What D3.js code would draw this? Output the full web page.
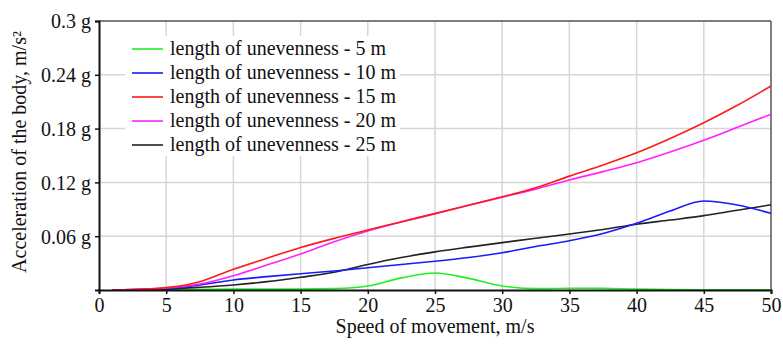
<!DOCTYPE html>
<html>
<head>
<meta charset="utf-8">
<script src="https://cdn.jsdelivr.net/npm/d3@7"></script>
<style>
  html, body { margin: 0; padding: 0; background: #fff; }
  svg { display: block; }
  text { font-family: "Liberation Serif", "Times New Roman", serif; fill: #111; }
</style>
</head>
<body>
<svg id="chart" width="783" height="345"></svg>
<script>
// ---- data ----
const speeds = [1, 2.5, 5, 7.5, 10, 12.5, 15, 17.5, 20, 22.5, 25, 27.5, 30, 32.5, 35, 37.5, 40, 42.5, 45, 47.5, 50];
const len5  = [0, 0.0002, 0.0005, 0.0008, 0.001, 0.001, 0.001, 0.0015, 0.0045, 0.0135, 0.019, 0.0130, 0.0045, 0.0015, 0.002, 0.0018, 0.001, 0.0005, 0.0003, 0.0003, 0.0003];
const len10 = [0, 0.0004, 0.0017, 0.0056, 0.0112, 0.0149, 0.0182, 0.0212, 0.0249, 0.0285, 0.0320, 0.0362, 0.0416, 0.0485, 0.0550, 0.0630, 0.0744, 0.0880, 0.0993, 0.0948, 0.0855];
const len15 = [0, 0.0005, 0.0026, 0.0093, 0.0231, 0.0354, 0.0474, 0.0576, 0.0669, 0.0762, 0.0852, 0.0945, 0.1040, 0.1140, 0.1270, 0.1394, 0.1530, 0.1690, 0.1866, 0.2060, 0.2275];
const len20 = [0, 0.0004, 0.0022, 0.0067, 0.0160, 0.0279, 0.0401, 0.0539, 0.0658, 0.0758, 0.0852, 0.0945, 0.1035, 0.1125, 0.1227, 0.1320, 0.1420, 0.1540, 0.1670, 0.1814, 0.1960];
const len25 = [0, 0.0003, 0.0010, 0.0030, 0.0056, 0.0093, 0.0142, 0.0197, 0.0285, 0.0362, 0.0425, 0.0478, 0.0528, 0.0578, 0.0624, 0.0675, 0.0733, 0.0780, 0.0829, 0.0890, 0.0950];
const seriesNames = ["length of unevenness - 5 m", "length of unevenness - 10 m", "length of unevenness - 15 m", "length of unevenness - 20 m", "length of unevenness - 25 m"];
const seriesColors = ["#22ee22", "#1a1aff", "#ff1a1a", "#ff22ff", "#222222"];
const xTicks = [0, 5, 10, 15, 20, 25, 30, 35, 40, 45, 50];
const yTicks = [0.06, 0.12, 0.18, 0.24, 0.3];
const yTickLabels = ["0.06 g", "0.12 g", "0.18 g", "0.24 g", "0.3 g"];
const xTitle = "Speed of movement, m/s";
const yTitle = "Acceleration of the body, m/s²";

// ---- layout ----
const svg = d3.select("#chart");
const L = 99, R = 771, T = 21, B = 290;
const x = d3.scaleLinear().domain([0, 50]).range([L, R]);
const y = d3.scaleLinear().domain([0, 0.3]).range([B, T]);

// grid
const grid = svg.append("g");
grid.selectAll("line.vx").data(xTicks.filter(d => d > 0 && d < 50)).enter().append("line")
  .attr("x1", d => x(d)).attr("x2", d => x(d)).attr("y1", T).attr("y2", B)
  .attr("stroke", "#d6d6d6").attr("stroke-width", 1.5);
grid.selectAll("line.hy").data(yTicks.filter(d => d < 0.3)).enter().append("line")
  .attr("x1", L).attr("x2", R).attr("y1", d => y(d)).attr("y2", d => y(d))
  .attr("stroke", "#d6d6d6").attr("stroke-width", 1.5);

// frame top/right
svg.append("line").attr("x1", L).attr("x2", R).attr("y1", T).attr("y2", T).attr("stroke", "#555").attr("stroke-width", 1.5);
svg.append("line").attr("x1", R).attr("x2", R).attr("y1", T).attr("y2", B).attr("stroke", "#555").attr("stroke-width", 1.5);

// series
const allSeries = [len5, len10, len15, len20, len25];
const lineGen = d3.line().x((d, i) => x(speeds[i])).y(d => y(d)).curve(d3.curveMonotoneX);
// draw order: green, black, blue, magenta, red
const order = [0, 4, 1, 3, 2];
order.forEach(k => {
  svg.append("path").datum(allSeries[k])
    .attr("fill", "none").attr("stroke", seriesColors[k]).attr("stroke-width", 1.6)
    .attr("d", lineGen);
});

// axes
const xAxis = d3.axisBottom(x).tickValues(xTicks).tickSize(4).tickFormat(d3.format("d"));
const gx = svg.append("g").attr("transform", `translate(0,${B})`).call(xAxis);
gx.select(".domain").attr("stroke", "#111").attr("stroke-width", 2);
gx.selectAll(".tick line").attr("stroke", "#111").attr("stroke-width", 1.5);
gx.selectAll(".tick text").attr("font-size", 20).attr("font-family", "Liberation Serif").attr("fill", "#111")
  .attr("y", 8).attr("dy", "0.71em");

const yAxis = d3.axisLeft(y).tickValues(yTicks).tickSize(4).tickFormat((d, i) => yTickLabels[i]);
const gy = svg.append("g").attr("transform", `translate(${L},0)`).call(yAxis);
gy.select(".domain").attr("stroke", "#111").attr("stroke-width", 2);
gy.selectAll(".tick line").attr("stroke", "#111").attr("stroke-width", 1.5);
gy.selectAll(".tick text").attr("font-size", 20).attr("font-family", "Liberation Serif").attr("fill", "#111")
  .attr("x", -8).attr("dy", "0.34em");

// titles
svg.append("text").attr("x", (L + R) / 2).attr("y", 333).attr("text-anchor", "middle")
  .attr("font-size", 20).text(xTitle);
svg.append("text").attr("transform", "translate(26,152) rotate(-90)").attr("text-anchor", "middle")
  .attr("font-size", 20).text(yTitle);

// legend
const lg = svg.append("g");
lg.append("rect").attr("x", 125).attr("y", 36).attr("width", 275).attr("height", 120).attr("fill", "#fff");
seriesNames.forEach((name, i) => {
  const ry = 49 + i * 24;
  lg.append("line").attr("x1", 132).attr("x2", 163).attr("y1", ry).attr("y2", ry)
    .attr("stroke", seriesColors[i]).attr("stroke-width", 1.6);
  lg.append("text").attr("x", 170).attr("y", ry + 6).attr("font-size", 20).text(name);
});
</script>
</body>
</html>
